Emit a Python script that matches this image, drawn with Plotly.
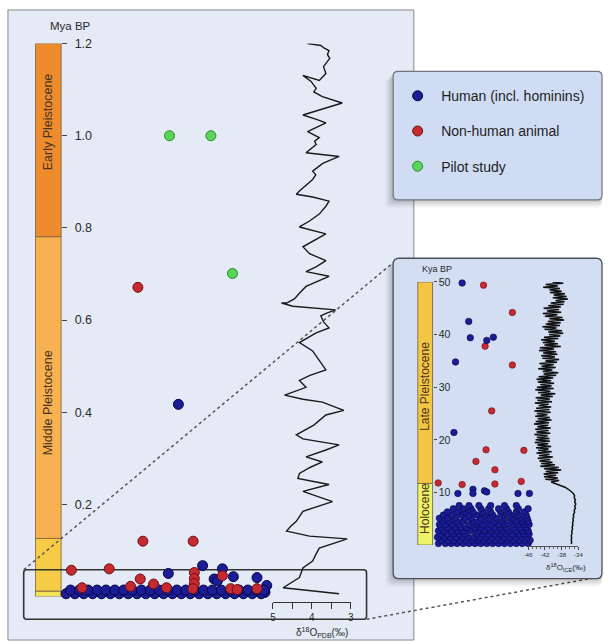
import plotly.graph_objects as go

W, H = 608, 642
def px(x): return x / W
def py(y): return 1 - y / H

# ---------------- DATA ----------------
epoch_names = ["Holocene", "Late Pleistocene", "Middle Pleistocene", "Early Pleistocene"]
epoch_bounds_mya = [0.0, 0.0117, 0.126, 0.781, 1.2]
epoch_bounds_kya = [0.0, 11.7, 50.0]

# Benthic d18O (PDB) curve, main panel
pdb_age_mya = [1.200, 1.198, 1.196, 1.190, 1.185, 1.176, 1.168, 1.150, 1.135, 1.120, 1.131, 1.118,
               1.103, 1.095, 1.085, 1.071, 1.060, 1.045, 1.036, 1.028, 1.009, 0.996, 0.988, 0.981,
               0.963, 0.955, 0.940, 0.923, 0.915, 0.905, 0.880, 0.873, 0.867, 0.858, 0.847, 0.838,
               0.830, 0.815, 0.802, 0.787, 0.772, 0.759, 0.744, 0.729, 0.716, 0.705, 0.695, 0.684,
               0.673, 0.658, 0.646, 0.637, 0.637, 0.630, 0.622, 0.615, 0.609, 0.596, 0.583, 0.572,
               0.562, 0.551, 0.533, 0.512, 0.492, 0.480, 0.469, 0.454, 0.437, 0.428, 0.422, 0.404,
               0.394, 0.372, 0.351, 0.342, 0.329, 0.318, 0.303, 0.292, 0.280, 0.267, 0.256, 0.243,
               0.228, 0.206, 0.195, 0.185, 0.163, 0.152, 0.142, 0.131, 0.125, 0.105, 0.091, 0.077,
               0.062, 0.052, 0.041, 0.019, 0.006]
d18o_pdb = [4.11, 3.90, 3.77, 3.68, 3.56, 3.60, 3.54, 3.70, 3.64, 3.81, 4.23, 4.02,
            3.89, 3.95, 3.73, 3.22, 3.64, 4.23, 3.90, 3.64, 4.11, 3.81, 3.93, 3.89,
            4.15, 3.30, 3.72, 3.98, 3.90, 3.98, 4.32, 4.40, 3.98, 3.56, 3.64, 3.72,
            3.81, 4.06, 4.32, 3.64, 3.95, 4.23, 4.06, 3.64, 3.88, 4.15, 3.56, 3.85,
            4.15, 4.32, 4.45, 4.65, 4.78, 4.49, 3.39, 3.62, 3.77, 3.70, 3.56, 3.89,
            4.10, 4.32, 3.98, 3.80, 3.64, 4.05, 4.32, 4.15, 4.70, 4.23, 3.73, 3.18,
            3.64, 3.95, 4.40, 4.23, 3.30, 3.64, 4.15, 3.73, 4.05, 4.32, 4.36, 3.56,
            4.23, 3.47, 3.90, 4.23, 4.40, 4.55, 4.65, 4.06, 3.09, 3.81, 3.90, 3.98,
            4.23, 4.28, 4.32, 4.74, 3.30]

# Ice-core d18O curve, inset (kya)
ice_age_kya = [50.0, 49.75, 49.5, 49.25, 49.0, 48.75, 48.5, 48.25,
               48.0, 47.75, 47.5, 47.25, 47.0, 46.75, 46.5, 46.25,
               46.0, 45.75, 45.5, 45.25, 45.0, 44.75, 44.5, 44.25,
               44.0, 43.75, 43.5, 43.25, 43.0, 42.75, 42.5, 42.25,
               42.0, 41.75, 41.5, 41.25, 41.0, 40.75, 40.5, 40.25,
               40.0, 39.75, 39.5, 39.25, 39.0, 38.75, 38.5, 38.25,
               38.0, 37.75, 37.5, 37.25, 37.0, 36.75, 36.5, 36.25,
               36.0, 35.75, 35.5, 35.25, 35.0, 34.75, 34.5, 34.25,
               34.0, 33.75, 33.5, 33.25, 33.0, 32.75, 32.5, 32.25,
               32.0, 31.75, 31.5, 31.25, 31.0, 30.75, 30.5, 30.25,
               30.0, 29.75, 29.5, 29.25, 29.0, 28.75, 28.5, 28.25,
               28.0, 27.75, 27.5, 27.25, 27.0, 26.75, 26.5, 26.25,
               26.0, 25.75, 25.5, 25.25, 25.0, 24.75, 24.5, 24.25,
               24.0, 23.75, 23.5, 23.25, 23.0, 22.75, 22.5, 22.25,
               22.0, 21.75, 21.5, 21.25, 21.0, 20.75, 20.5, 20.25,
               20.0, 19.75, 19.5, 19.25, 19.0, 18.75, 18.5, 18.25,
               18.0, 17.75, 17.5, 17.25, 17.0, 16.75, 16.5, 16.25,
               16.0, 15.75, 15.5, 15.25, 15.0, 14.75, 14.5, 14.25,
               14.0, 13.75, 13.5, 13.25, 13.0, 12.75, 12.5, 12.25,
               12.0, 11.7, 11.4, 11.0, 10.6, 10.2, 9.8, 9.4, 9.0, 8.6,
               8.2, 7.8, 7.4, 7.0, 6.6, 6.2, 5.8, 5.4, 5.0, 4.6,
               4.2, 3.8, 3.4, 3.0, 2.6, 2.2, 1.8, 1.4, 1.0, 0.6, 0.2]
d18o_ice = [-40.2, -37.6, -41.8, -38.9, -42.4, -38.4, -40.9, -38.0,
            -40.8, -37.2, -39.9, -36.8, -40.1, -36.5, -39.4, -37.3,
            -40.6, -37.5, -41.2, -38.2, -42.3, -38.6, -41.5, -38.1,
            -42.5, -39.0, -42.0, -37.8, -40.9, -37.4, -41.3, -38.2,
            -41.8, -38.4, -42.6, -39.2, -42.1, -37.9, -41.2, -37.6,
            -41.0, -38.3, -42.2, -38.8, -42.9, -39.6, -42.5, -38.9,
            -42.1, -38.2, -43.2, -39.8, -43.4, -39.3, -42.4, -39.0,
            -42.9, -39.6, -42.6, -38.6, -41.9, -39.1, -43.3, -39.9,
            -42.8, -39.4, -43.6, -40.2, -42.5, -38.8, -42.3, -39.3,
            -43.5, -40.0, -44.0, -40.5, -43.7, -39.8, -43.1, -40.4,
            -43.9, -39.9, -44.3, -40.7, -43.6, -39.5, -43.0, -40.1,
            -44.2, -40.8, -43.8, -40.3, -44.4, -41.1, -43.5, -40.5,
            -44.1, -40.9, -44.5, -40.6, -43.9, -41.4, -44.3, -40.8,
            -43.7, -40.4, -44.2, -41.0, -44.6, -41.2, -43.8, -40.6,
            -44.3, -41.1, -44.0, -40.7, -44.5, -41.3, -43.9, -40.9,
            -44.2, -40.8, -44.4, -41.2, -43.8, -40.5, -44.1, -41.1,
            -43.6, -40.4, -44.0, -40.9, -43.4, -40.1, -43.7, -40.7,
            -43.3, -40.2, -42.9, -39.6, -43.1, -38.7, -42.2, -38.1,
            -41.8, -38.8, -42.3, -39.3, -42.2, -38.9, -41.9, -38.6,
            -40.5, -39.5, -38.2, -37.2, -36.4, -35.8, -35.2, -34.9, -35.0, -34.7,
            -34.9, -34.6, -34.9, -34.7, -35.0, -34.9, -35.2, -35.1, -35.3, -35.2,
            -35.4, -35.3, -35.5, -35.4, -35.6, -35.5, -35.7, -35.6, -35.7, -35.6, -35.7]

# Main panel samples (x = arbitrary spread position, age in Mya)
human_x = [39.0, 47.2, 53.9, 35.6, 51.1, 52.2, 57.6, 65.6, 68.9, 68.3,
           1, 4, 7, 10, 13, 16, 19, 22, 25, 28, 31, 34, 37, 40, 43, 46, 49, 52, 55, 58, 61, 64, 67,
           2.5, 5.5, 8.5, 11.5, 14.5, 17.5, 20.5, 23.5, 26.5, 29.5, 32.5, 35.5, 38.5, 41.5, 44.5,
           47.5, 50.5, 53.5, 56.5, 59.5, 62.5, 65.5, 68.0]
human_age = [0.417, 0.067, 0.060, 0.050, 0.038, 0.034, 0.043, 0.041, 0.024, 0.009,
             0.006, 0.006, 0.006, 0.006, 0.006, 0.006, 0.006, 0.006, 0.006, 0.006, 0.006, 0.006,
             0.006, 0.006, 0.006, 0.006, 0.006, 0.006, 0.006, 0.006, 0.006, 0.006, 0.006,
             0.014, 0.014, 0.014, 0.014, 0.014, 0.014, 0.014, 0.014, 0.014, 0.014, 0.014, 0.014,
             0.014, 0.014, 0.014, 0.014, 0.014, 0.014, 0.014, 0.014, 0.014, 0.014, 0.014]
animal_x = [25.3, 27.0, 44.0, 2.8, 15.6, 26.1, 30.6, 6.4, 22.8, 44.4, 44.4, 44.4,
            43.9, 53.9, 65.6, 35.0, 56.7, 58.9]
animal_age = [0.671, 0.120, 0.120, 0.057, 0.060, 0.038, 0.027, 0.019, 0.022, 0.052, 0.039, 0.028,
              0.017, 0.045, 0.017, 0.019, 0.017, 0.015]
pilot_x = [36.0, 50.0, 57.3]
pilot_age = [1.0, 1.0, 0.701]

# Inset samples (x = arbitrary spread position, age in kya)
in_human_x = [29, 35.7, 37.3, 54, 60.7, 22.3, 20.7, 24.7, 40, 40, 51.7, 54, 85.7, 97.3,
              5, 12, 18, 24, 30, 36, 42, 48, 54, 60, 66, 72, 78, 84, 90, 96,
              8, 15, 21, 27, 33, 39, 45, 51, 57, 63, 69, 75, 81, 87, 93, 98,
              4, 11, 17, 23, 29, 35, 41, 47, 53, 59, 65, 71, 77, 83, 89, 95,
              7, 14, 20, 26, 32, 44, 50, 56, 62, 68, 74, 80, 86, 92, 97,
              5, 10, 18, 24, 30, 38, 46, 52, 58, 64, 70, 76, 84, 90, 96,
              8, 14, 22, 28, 34, 42, 48, 56, 62, 68, 74, 82, 88, 94,
              6, 12, 19, 26, 36, 44, 50, 58, 66, 72, 80, 86, 92, 97,
              9, 16, 24, 30, 40, 46, 54, 62, 70, 78, 84, 90, 96,
              6, 14, 22, 32, 38, 48, 56, 64, 72, 80, 88, 95,
              10, 18, 28, 36, 44, 52, 60, 70, 78, 86, 94,
              14, 24, 32, 40, 50, 58, 68, 76, 84, 92,
              20, 30, 38, 48, 56, 66, 74, 86, 96,
              26, 36, 46, 58, 72, 84]
in_human_age = [49.8, 42.5, 39.4, 38.9, 39.5, 34.8, 21.4, 9.8, 10.6, 9.8, 10.3, 10.1, 9.8, 9.8] + \
    [0.3] * 16 + [0.9] * 16 + [1.5] * 16 + [2.1] * 15 + [2.7] * 15 + [3.3] * 14 + \
    [3.9] * 14 + [4.5] * 13 + [5.1] * 12 + [5.7] * 11 + [6.3] * 10 + [6.9] * 9 + [7.5] * 6
in_animal_x = [50.7, 80, 52.3, 80, 59, 53.3, 91.7, 43, 62.3, 4.7, 29, 62.3, 89, 31.3, 50.7, 85.7]
in_animal_age = [49.4, 44.2, 37.8, 34.2, 25.5, 18.1, 18.0, 15.9, 14.3, 11.8, 11.5, 11.6, 12.1,
                 6.4, 2.9, 5.4]

legend_names = ["Human (incl. hominins)", "Non-human animal", "Pilot study"]
main_y_ticks = [0.2, 0.4, 0.6, 0.8, 1.0, 1.2]
inset_y_ticks = [10, 20, 30, 40, 50]
pdb_ticks = [5, 4, 3]
ice_ticks = [-46, -42, -38, -34]

# ---------------- STYLE ----------------
BLUE, BLUE_LINE = "#1a1c98", "#07073f"
RED, RED_LINE = "#c42a30", "#6e1014"
GREEN, GREEN_LINE = "#58d658", "#2a8a2a"
FONT = "Liberation Sans, Arial, sans-serif"
epoch_colors_main = ["#f2e25a", "#f6cb46", "#f8b150", "#ee8b2d"]
epoch_colors_inset = ["#eef266", "#f5c644"]

fig = go.Figure()

fig.add_trace(go.Scatter(x=human_x, y=human_age, mode="markers", name=legend_names[0],
                         legendgroup="a", xaxis="x", yaxis="y", cliponaxis=False,
                         marker=dict(size=10, color=BLUE, line=dict(color=BLUE_LINE, width=1))))
fig.add_trace(go.Scatter(x=animal_x, y=animal_age, mode="markers", name=legend_names[1],
                         legendgroup="b", xaxis="x", yaxis="y", cliponaxis=False,
                         marker=dict(size=10, color=RED, line=dict(color=RED_LINE, width=1))))
fig.add_trace(go.Scatter(x=pilot_x, y=pilot_age, mode="markers", name=legend_names[2],
                         legendgroup="c", xaxis="x", yaxis="y", cliponaxis=False,
                         marker=dict(size=10, color=GREEN, line=dict(color=GREEN_LINE, width=1))))
fig.add_trace(go.Scatter(x=d18o_pdb, y=pdb_age_mya, mode="lines", xaxis="x2", yaxis="y",
                         showlegend=False, line=dict(color="#1a1a1a", width=1.4)))
fig.add_trace(go.Scatter(x=in_animal_x, y=in_animal_age, mode="markers", xaxis="x3", yaxis="y3",
                         showlegend=False, cliponaxis=False,
                         marker=dict(size=6.5, color=RED, line=dict(color=RED_LINE, width=0.6))))
fig.add_trace(go.Scatter(x=in_human_x, y=in_human_age, mode="markers", xaxis="x3", yaxis="y3",
                         showlegend=False, cliponaxis=False,
                         marker=dict(size=6.5, color=BLUE, line=dict(color=BLUE_LINE, width=0.6))))
fig.add_trace(go.Scatter(x=d18o_ice, y=ice_age_kya, mode="lines", xaxis="x4", yaxis="y3",
                         showlegend=False, line=dict(color="#111111", width=1.5)))

def rrect(x0, y0, x1, y1, r):
    return (f"M {px(x0 + r)},{py(y0)} L {px(x1 - r)},{py(y0)} Q {px(x1)},{py(y0)} {px(x1)},{py(y0 + r)} "
            f"L {px(x1)},{py(y1 - r)} Q {px(x1)},{py(y1)} {px(x1 - r)},{py(y1)} "
            f"L {px(x0 + r)},{py(y1)} Q {px(x0)},{py(y1)} {px(x0)},{py(y1 - r)} "
            f"L {px(x0)},{py(y0 + r)} Q {px(x0)},{py(y0)} {px(x0 + r)},{py(y0)} Z")

shapes = []
shapes.append(dict(type="rect", xref="paper", yref="paper", x0=px(4), x1=px(416), y0=py(640), y1=py(3),
                   fillcolor="#e4eaf6", line=dict(color="#8a8a8a", width=1), layer="below"))
for i in range(4):
    shapes.append(dict(type="rect", xref="paper", yref="y", x0=px(32), x1=px(58),
                       y0=epoch_bounds_mya[i], y1=epoch_bounds_mya[i + 1],
                       fillcolor=epoch_colors_main[i], line=dict(color="#7a6040", width=0.8), layer="below"))
shapes.append(dict(type="path", xref="paper", yref="paper", path=rrect(20, 569, 368, 619, 3),
                   line=dict(color="#333333", width=1.6), layer="below"))
shapes.append(dict(type="line", xref="paper", yref="paper", x0=px(20), y0=py(569), x1=px(398), y1=py(256),
                   line=dict(color="#555555", width=1.5, dash="dot"), layer="below"))
shapes.append(dict(type="line", xref="paper", yref="paper", x0=px(368), y0=py(619), x1=px(600), y1=py(577),
                   line=dict(color="#555555", width=1.5, dash="dot"), layer="below"))
for k, a in [(8, 0.04), (6, 0.05), (4, 0.06), (2, 0.07)]:
    shapes.append(dict(type="path", xref="paper", yref="paper", path=rrect(395 - k, 65 + k, 607, 195 + k, 5),
                       fillcolor=f"rgba(0,0,0,{a})", line=dict(width=0), layer="below"))
shapes.append(dict(type="path", xref="paper", yref="paper", path=rrect(395, 65, 607, 195, 5),
                   fillcolor="#cfdcf3", line=dict(color="#6f7580", width=1.2), layer="below"))
for k, a in [(8, 0.04), (6, 0.05), (4, 0.06), (2, 0.07)]:
    shapes.append(dict(type="path", xref="paper", yref="paper", path=rrect(395 - k, 254 + k, 607, 578 + k, 6),
                       fillcolor=f"rgba(0,0,0,{a})", line=dict(width=0), layer="below"))
shapes.append(dict(type="path", xref="paper", yref="paper", path=rrect(395, 254, 607, 578, 6),
                   fillcolor="#d3def3", line=dict(color="#4a4f58", width=1.3), layer="below"))
for i in range(2):
    shapes.append(dict(type="rect", xref="paper", yref="y3", x0=px(420), x1=px(435),
                       y0=epoch_bounds_kya[i], y1=epoch_bounds_kya[i + 1],
                       fillcolor=epoch_colors_inset[i], line=dict(color="#6a6040", width=0.8), layer="below"))

ann = []
def txt(text, x, y, size, xref="paper", yref="paper", angle=0, color="#2a2a2a"):
    ann.append(dict(text=text, x=x, y=y, xref=xref, yref=yref, showarrow=False, textangle=angle,
                    font=dict(size=size, color=color, family=FONT), xanchor="center", yanchor="middle"))

txt("Mya BP", px(68), py(19), 11.5)
txt("Early Pleistocene", px(45), 1.03, 12.5, yref="y", angle=-90, color="#4a3520")
txt("Middle Pleistocene", px(45), 0.42, 12.5, yref="y", angle=-90, color="#4a3520")
txt("δ<sup>18</sup>O<sub>PDB</sub>(‰)", px(323), py(632), 10)
txt("Kya BP", px(440), py(265), 9)
txt("Late Pleistocene", px(427.5), 30.1, 12, yref="y3", angle=-90, color="#4a3520")
txt("Holocene", px(427.5), 6.9, 12, yref="y3", angle=-90, color="#4a3520")
txt("δ<sup>18</sup>O<sub>ICE</sub>(‰)", px(570), py(567), 8)

axis_common = dict(showgrid=False, zeroline=False)
fig.update_layout(
    width=W, height=H, margin=dict(l=0, r=0, t=0, b=0),
    paper_bgcolor="white", plot_bgcolor="rgba(0,0,0,0)",
    font=dict(family=FONT, color="#2a2a2a"),
    shapes=shapes, annotations=ann,
    showlegend=True,
    legend=dict(x=px(396), y=py(74), xanchor="left", yanchor="top", bgcolor="rgba(0,0,0,0)",
                font=dict(size=14, color="#1e1e1e", family=FONT), tracegroupgap=14, itemwidth=37,
                itemclick=False, itemdoubleclick=False),
    xaxis=dict(domain=[px(60), px(360)], range=[0, 100], visible=False, anchor="y", **axis_common),
    yaxis=dict(domain=[py(596), py(37)], range=[0, 1.2], anchor="free", position=px(58), side="right",
               tickvals=main_y_ticks, ticktext=[f"{v:.1f}" for v in main_y_ticks],
               ticks="outside", ticklen=5, tickcolor="#444", showline=False, ticklabelstandoff=5,
               tickfont=dict(size=12.5, color="#2a2a2a"), **axis_common),
    xaxis2=dict(domain=[px(273), px(352)], range=[5, 3], anchor="free", position=py(602),
                tickvals=pdb_ticks, ticks="outside", ticklen=6,
                tickcolor="#333", showline=True, linecolor="#333", linewidth=1,
                minor=dict(dtick=0.5, ticks="outside", ticklen=6, tickcolor="#333"),
                tickfont=dict(size=10, color="#2a2a2a"), **axis_common),
    xaxis3=dict(domain=[px(436), px(536)], range=[0, 100], visible=False, anchor="y3", **axis_common),
    yaxis3=dict(domain=[py(544), py(278)], range=[0, 50], anchor="free", position=px(435), side="right",
                tickvals=inset_y_ticks, ticks="outside", ticklen=3, tickcolor="#444", showline=False,
                tickfont=dict(size=10.5, color="#2a2a2a"), **axis_common),
    xaxis4=dict(domain=[px(532), px(583)], range=[-46, -34], anchor="free", position=py(545),
                tickvals=ice_ticks, ticktext=[str(v) for v in ice_ticks], ticks="outside", ticklen=3,
                tickcolor="#444", showline=True, linecolor="#555", linewidth=1,
                minor=dict(dtick=1, ticks="outside", ticklen=2, tickcolor="#666"),
                tickfont=dict(size=6, color="#2a2a2a"), **axis_common),
)

fig.write_html("out.html", config={"displayModeBar": False},
               post_script="document.body.style.margin='0';document.body.style.padding='0';"
                           "document.documentElement.style.overflow='hidden';")
